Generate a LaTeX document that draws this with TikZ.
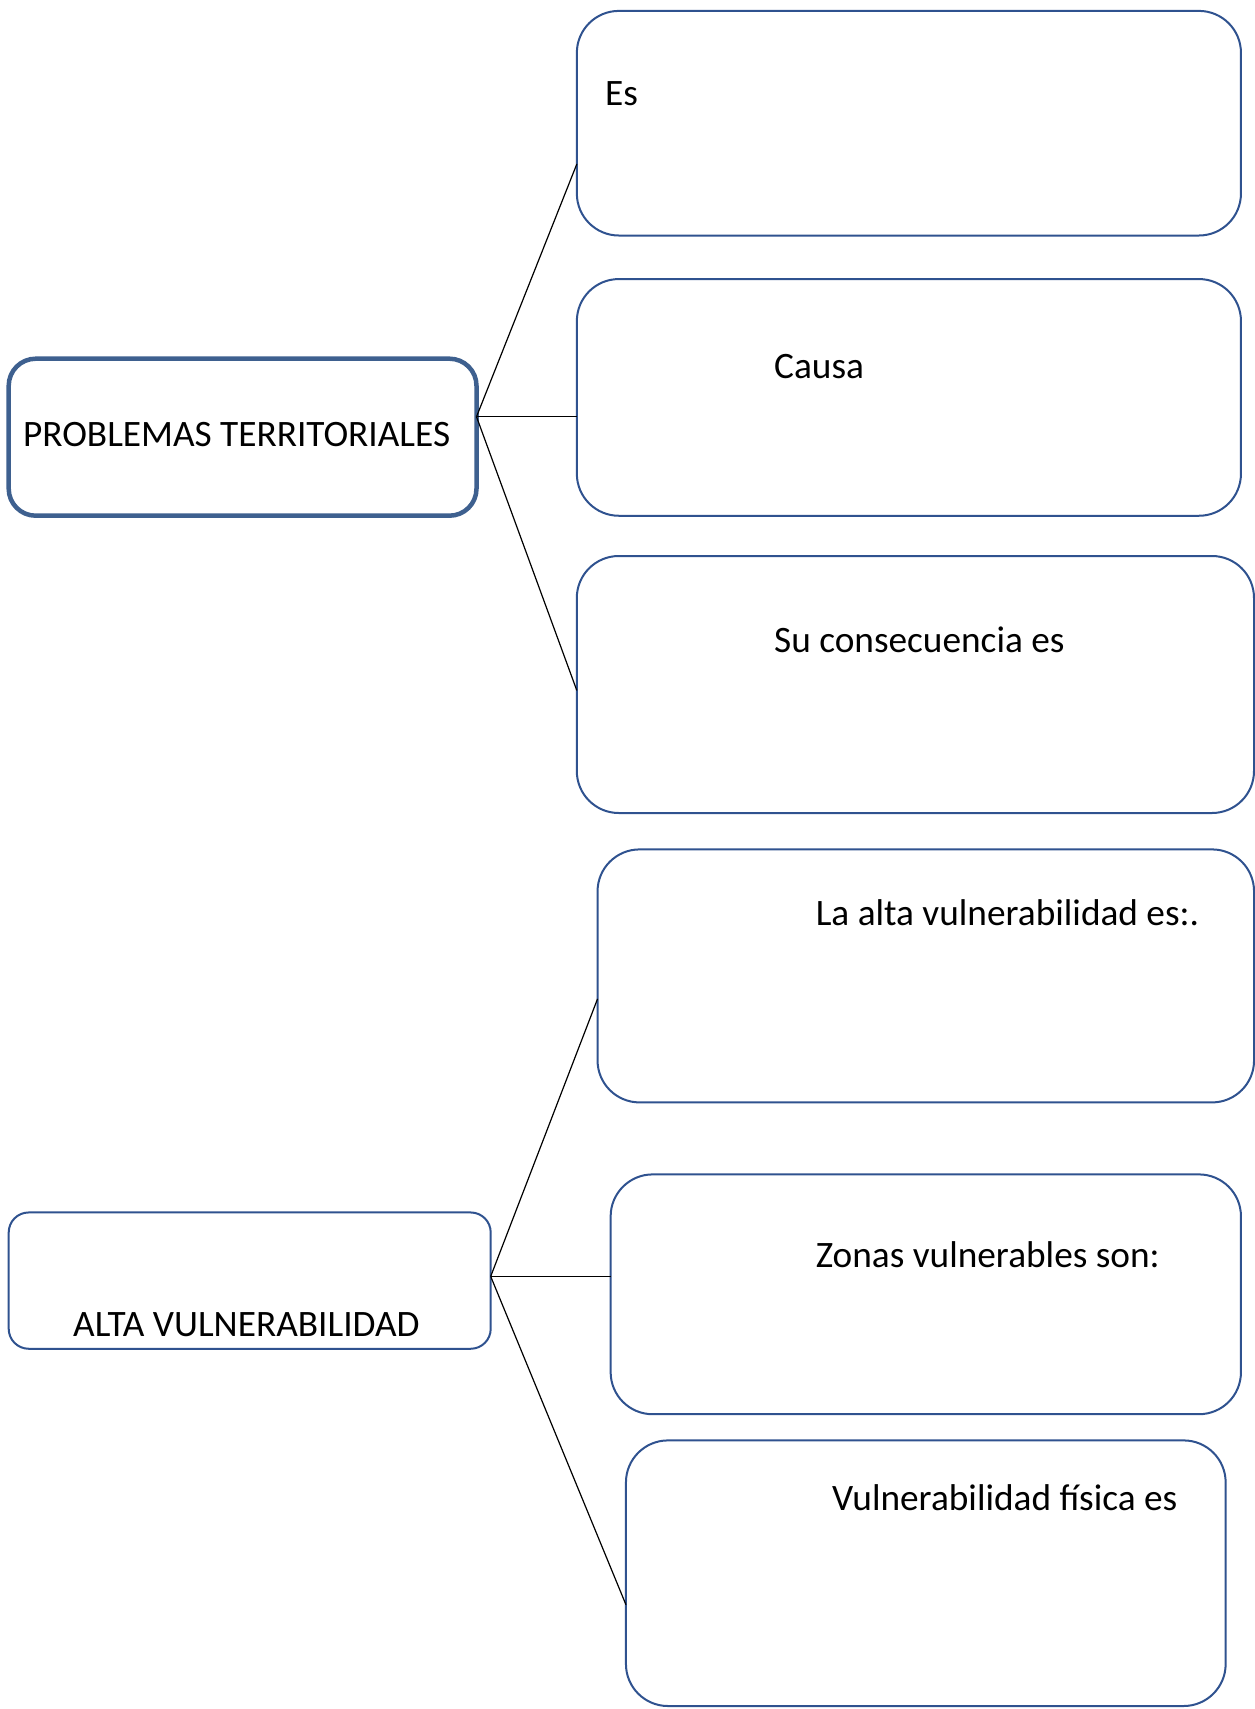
\documentclass[tikz,border=0pt]{standalone}
\usepackage{fontspec}
\setmainfont{Carlito}
\definecolor{boxblue}{RGB}{47,82,143}
\definecolor{ptblue}{RGB}{62,96,143}

\begin{document}
\begin{tikzpicture}[x=1pt,y=-1pt]

      \useasboundingbox (0,0) rectangle (1255,1709);

      \begin{scope}[every node/.style={draw=boxblue,line width=2pt,rounded corners=42pt,outer sep=0pt,inner sep=0pt}]
        \node[minimum width=467.8pt,minimum height=157pt,draw=ptblue,line width=4.5pt,rounded corners=27pt] (pt) at (242.6,437.2) {};
        \node[minimum width=482pt,minimum height=136.3pt,rounded corners=20pt] (av) at (249.7,1280.6) {};
        \node[minimum width=664.1pt,minimum height=224.6pt] (es)    at (908.9,123.2) {};
        \node[minimum width=664.1pt,minimum height=236.7pt] (causa) at (908.9,397.4) {};
        \node[minimum width=677.2pt,minimum height=257pt]   (cons)  at (915.4,684.5) {};
        \node[minimum width=656.5pt,minimum height=253pt]   (alta)  at (925.8,975.9) {};
        \node[minimum width=630.3pt,minimum height=239.8pt] (zonas) at (925.8,1294.3) {};
        \node[minimum width=599.7pt,minimum height=265.6pt] (fis)   at (925.8,1573.2) {};
      \end{scope}

      \begin{scope}[every node/.style={anchor=base west,inner sep=0pt,font=\fontsize{37.3}{44}\selectfont}]
        \node (ptlabel)    at (22.9,446)    {PROBLEMAS TERRITORIALES};
        \node (avlabel)    at (73,1336)     {ALTA VULNERABILIDAD};
        \node (eslabel)    at (605,105)     {Es};
        \node (causalabel) at (774,378)     {Causa};
        \node (conslabel)  at (774,652)     {Su consecuencia es};
        \node (altalabel)  at (815.6,925.7) {La alta vulnerabilidad es:.};
        \node (zonaslabel) at (815.6,1267)  {Zonas vulnerables son:};
        \node (fislabel)   at (832,1510)    {Vulnerabilidad física es};
      \end{scope}

      \begin{scope}[every edge/.style={draw,line width=1.2pt}]
        \path (pt.5)  edge (es.187);
        \path (pt.5)  edge (causa.west |- pt.5);
        \path (pt.5)  edge (cons.181.9);
        \path (av.1.4) edge (alta.184.2);
        \path (av.1.4) edge (zonas.west |- av.1.4);
        \path (av.1.4) edge (fis.186);
      \end{scope}

    \end{tikzpicture}
\end{document}
